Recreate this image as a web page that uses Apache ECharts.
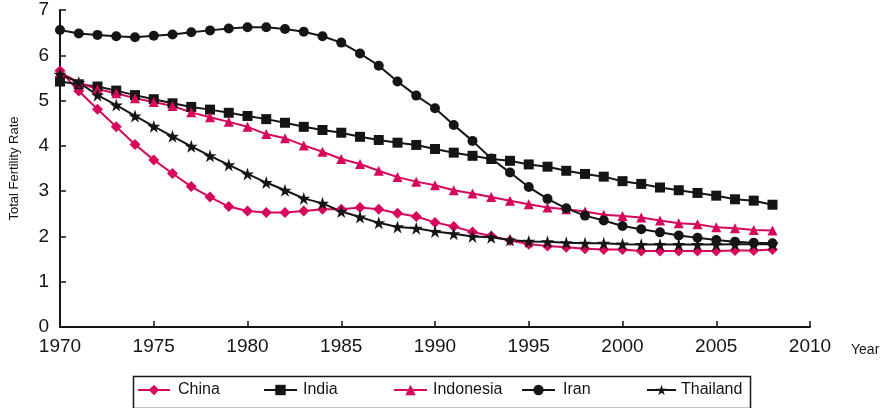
<!DOCTYPE html>
<html>
<head>
<meta charset="utf-8">
<script src="https://cdn.jsdelivr.net/npm/echarts@6/dist/echarts.min.js"></script>
<style>
  html, body { margin: 0; padding: 0; background: #fff; }
  #chart { width: 891px; height: 408px; }
</style>
</head>
<body>
<div id="chart"></div>
<script>
// Total fertility rate by year, 1970-2008
const years = [1970, 1971, 1972, 1973, 1974, 1975, 1976, 1977, 1978, 1979,
  1980, 1981, 1982, 1983, 1984, 1985, 1986, 1987, 1988, 1989,
  1990, 1991, 1992, 1993, 1994, 1995, 1996, 1997, 1998, 1999,
  2000, 2001, 2002, 2003, 2004, 2005, 2006, 2007, 2008];

const china = [5.66, 5.21, 4.81, 4.42, 4.03, 3.69, 3.39, 3.10, 2.87, 2.66,
  2.56, 2.53, 2.53, 2.56, 2.60, 2.60, 2.64, 2.60, 2.51, 2.44,
  2.31, 2.22, 2.10, 2.01, 1.91, 1.83, 1.79, 1.76, 1.73, 1.71,
  1.71, 1.68, 1.68, 1.68, 1.68, 1.68, 1.69, 1.69, 1.71];

const india = [5.42, 5.36, 5.31, 5.22, 5.12, 5.03, 4.94, 4.86, 4.80, 4.73,
  4.66, 4.59, 4.51, 4.42, 4.35, 4.29, 4.20, 4.13, 4.07, 4.02,
  3.93, 3.85, 3.78, 3.71, 3.67, 3.59, 3.54, 3.45, 3.38, 3.32,
  3.22, 3.16, 3.08, 3.02, 2.96, 2.90, 2.82, 2.79, 2.70];

const indonesia = [5.62, 5.40, 5.25, 5.16, 5.05, 4.97, 4.88, 4.74, 4.63, 4.53,
  4.42, 4.26, 4.17, 4.01, 3.87, 3.71, 3.60, 3.45, 3.31, 3.21,
  3.13, 3.02, 2.95, 2.87, 2.79, 2.71, 2.64, 2.60, 2.55, 2.48,
  2.45, 2.42, 2.35, 2.29, 2.27, 2.20, 2.18, 2.14, 2.13];

const iran = [6.56, 6.48, 6.45, 6.42, 6.40, 6.43, 6.46, 6.51, 6.55, 6.59,
  6.62, 6.62, 6.58, 6.52, 6.42, 6.28, 6.04, 5.77, 5.42, 5.11,
  4.83, 4.46, 4.11, 3.72, 3.41, 3.09, 2.83, 2.62, 2.46, 2.35,
  2.23, 2.16, 2.09, 2.02, 1.97, 1.92, 1.88, 1.86, 1.85];

const thailand = [5.58, 5.40, 5.12, 4.90, 4.66, 4.43, 4.21, 3.99, 3.78, 3.58,
  3.38, 3.19, 3.02, 2.84, 2.73, 2.55, 2.43, 2.30, 2.21, 2.18,
  2.11, 2.06, 2.00, 1.98, 1.92, 1.89, 1.88, 1.86, 1.85, 1.85,
  1.83, 1.82, 1.82, 1.82, 1.82, 1.82, 1.83, 1.83, 1.83];

const xTicks = [1970, 1975, 1980, 1985, 1990, 1995, 2000, 2005, 2010];
const yTicks = [0, 1, 2, 3, 4, 5, 6, 7];

const PINK = '#D6075C';
const BLACK = '#151515';
const FONT = '"Liberation Sans", Arial, Helvetica, sans-serif';
const STAR = 'path://M50,0 L61.2,34.5 L97.6,34.5 L68.2,55.9 L79.4,90.5 L50,69.1 L20.6,90.5 L31.8,55.9 L2.4,34.5 L38.8,34.5 Z';

const seriesDefs = [
  { name: 'China', data: china, color: PINK, symbol: 'diamond', size: 11 },
  { name: 'India', data: india, color: BLACK, symbol: 'rect', size: 10 },
  { name: 'Indonesia', data: indonesia, color: PINK, symbol: 'triangle', size: 10 },
  { name: 'Iran', data: iran, color: BLACK, symbol: 'circle', size: 10 },
  { name: 'Thailand', data: thailand, color: BLACK, symbol: STAR, size: 13 }
];

// one legend box per entry so the slots sit at fixed spacing
const legendSlots = [
  { name: 'China', left: 137, width: 32, pad: 3 },
  { name: 'India', left: 263, width: 33, pad: 1 },
  { name: 'Indonesia', left: 393, width: 33, pad: 1 },
  { name: 'Iran', left: 521, width: 33, pad: 3 },
  { name: 'Thailand', left: 646, width: 29, pad: 0 }
];

const chart = echarts.init(document.getElementById('chart'), null, { renderer: 'canvas' });

const option = {
  animation: false,
  backgroundColor: '#ffffff',
  textStyle: { fontFamily: FONT },
  grid: { left: 56, right: 81, top: 10, bottom: 81, containLabel: false },
  xAxis: {
    type: 'value',
    min: xTicks[0],
    max: xTicks[xTicks.length - 1],
    interval: 5,
    name: 'Year',
    nameLocation: 'end',
    nameGap: 41,
    nameTextStyle: { color: BLACK, fontSize: 14, fontFamily: FONT, verticalAlign: 'top', padding: [16, 0, 0, 0] },
    axisLine: { show: true, lineStyle: { color: BLACK, width: 2 } },
    axisTick: { show: true, inside: true, length: 6, lineStyle: { color: BLACK, width: 1.5 } },
    axisLabel: { color: BLACK, fontSize: 19, fontFamily: FONT, margin: 10, formatter: v => String(v) },
    splitLine: { show: false }
  },
  yAxis: {
    type: 'value',
    min: yTicks[0],
    max: yTicks[yTicks.length - 1],
    interval: 1,
    name: 'Total Fertility Rate',
    nameLocation: 'middle',
    nameGap: 39,
    nameTextStyle: { color: BLACK, fontSize: 13, fontFamily: FONT },
    axisLine: { show: true, lineStyle: { color: BLACK, width: 2 } },
    axisTick: { show: true, inside: true, length: 6, lineStyle: { color: BLACK, width: 1.5 } },
    axisLabel: { color: BLACK, fontSize: 19, fontFamily: FONT, margin: 11 },
    splitLine: { show: false }
  },
  legend: legendSlots.map(s => ({
    data: [s.name],
    left: s.left,
    top: 382,
    itemWidth: s.width,
    itemHeight: 13,
    padding: 0,
    textStyle: { color: BLACK, fontSize: 16, fontFamily: FONT, padding: [0, 0, 0, s.pad] }
  })),
  graphic: [
    {
      type: 'rect',
      left: 131,
      top: 374,
      shape: { width: 617, height: 32 },
      style: { fill: 'none', stroke: BLACK, lineWidth: 1.5 },
      silent: true
    }
  ],
  series: seriesDefs.map(d => ({
    name: d.name,
    type: 'line',
    data: years.map((y, i) => [y, d.data[i]]),
    symbol: d.symbol,
    symbolSize: d.size,
    showAllSymbol: true,
    lineStyle: { color: d.color, width: 2 },
    itemStyle: { color: d.color, borderWidth: 0 },
    emphasis: { disabled: true }
  }))
};

chart.setOption(option);
</script>
</body>
</html>
